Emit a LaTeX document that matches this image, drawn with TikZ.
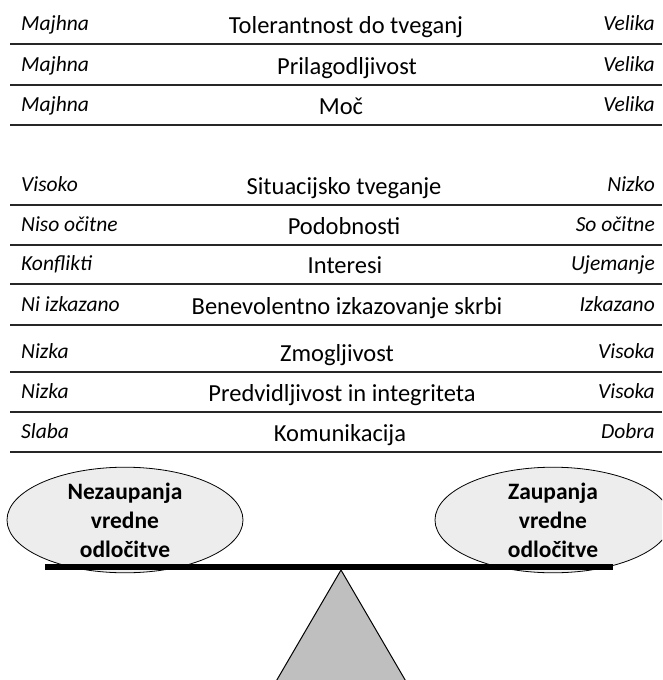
\documentclass[tikz,border=0pt]{standalone}
\usepackage{fontspec}
\setmainfont{Carlito}
\usetikzlibrary{shapes.geometric}
\begin{document}
\begin{tikzpicture}[x=1pt,y=-1pt,
  rule/.style={line width=2.4pt, draw=black!85},
  lowtext/.style={anchor=base west, inner sep=0pt, font=\fontsize{21.5}{24}\selectfont\itshape},
  hightext/.style={anchor=base east, inner sep=0pt, font=\fontsize{21.5}{24}\selectfont\itshape},
  factor/.style={anchor=base, inner sep=0pt, font=\fontsize{24.5}{28}\selectfont},
  outcome/.style={ellipse, draw=black, line width=0.8pt, fill=black!7,
    minimum width=236pt, minimum height=96pt, inner sep=0pt, align=center,
    font=\fontsize{23.5}{29}\selectfont\bfseries},
  beam/.style={line width=6pt, draw=black},
  pivot/.style={draw=black, line width=1pt, fill=black!25, line join=miter}]
\useasboundingbox (0,0) rectangle (662,680);
\clip (0,0) rectangle (662,680);

% trust factors: rule position / low end / factor / factor x / high end
\foreach \ry/\lo/\fac/\fx/\hi [count=\i] in {
  44/Majhna/Tolerantnost do tveganj/346/Velika,
  85/Majhna/Prilagodljivost/347/Velika,
  125/Majhna/Moč/341/Velika,
  205/Visoko/Situacijsko tveganje/344/Nizko,
  245/Niso očitne/Podobnosti/344/So očitne,
  284/Konflikti/Interesi/345/Ujemanje,
  325/Ni izkazano/Benevolentno izkazovanje skrbi/347/Izkazano,
  372/Nizka/Zmogljivost/337/Visoka,
  412/Nizka/Predvidljivost in integriteta/342/Visoka,
  452/Slaba/Komunikacija/340/Dobra} {
  \node[lowtext]  (lo\i)  at (21,\ry-14) {\lo};
  \node[factor]   (fac\i) at (\fx,\ry-11) {\fac};
  \node[hightext] (hi\i)  at (655,\ry-14) {\hi};
  \coordinate (ruleL\i) at (10,\ry);
  \coordinate (ruleR\i) at (662,\ry);
  \draw[rule] (ruleL\i) -- (ruleR\i);
}

% the two outcomes resting on the balance
\node[outcome] (distrust) at (125,520) {Nezaupanja\\vredne\\odločitve};
\node[outcome] (trust)    at (553,520) {Zaupanja\\vredne\\odločitve};

% balance beam and pivot
\coordinate (beamL) at (45,567);
\coordinate (beamR) at (613,567);
\draw[beam] (beamL) -- (beamR);
\coordinate (apex)  at (341,570);
\coordinate (baseL) at (271,690);
\coordinate (baseR) at (411,690);
\draw[pivot] (apex) -- (baseR) -- (baseL) -- cycle;
\end{tikzpicture}
\end{document}
